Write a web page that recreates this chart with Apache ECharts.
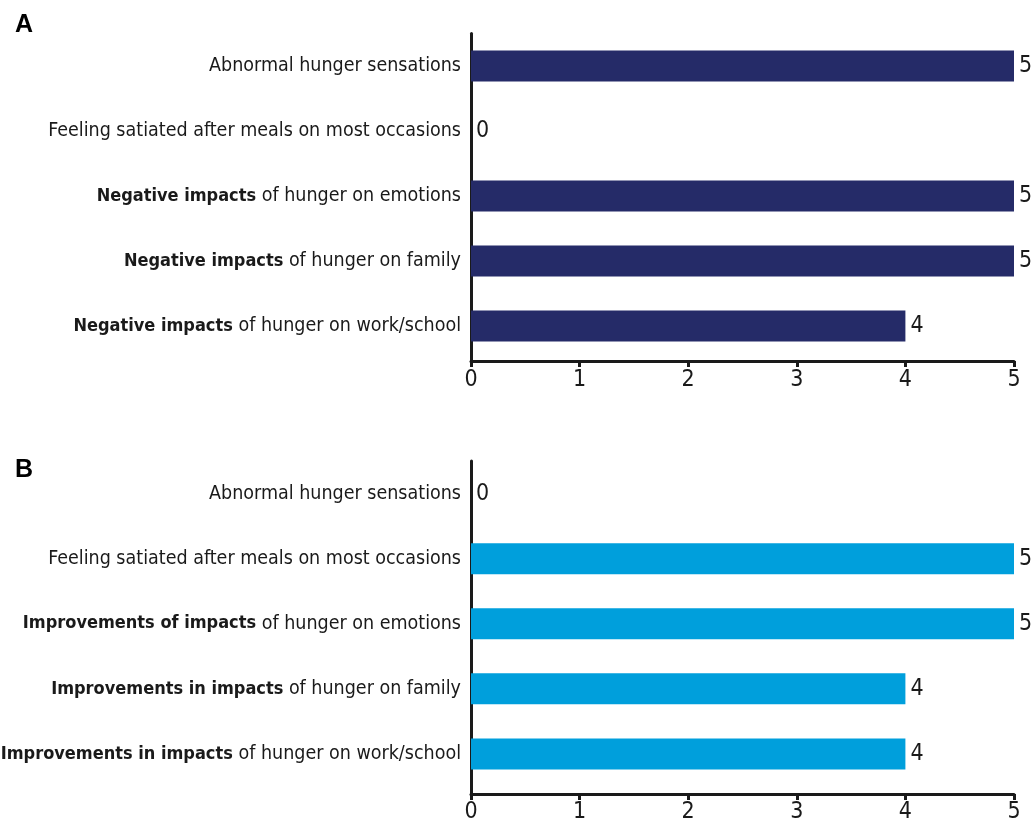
<!DOCTYPE html>
<html>
<head>
<meta charset="utf-8">
<script src="https://cdn.jsdelivr.net/npm/echarts@6/dist/echarts.min.js"></script>
<style>
  html, body { margin: 0; padding: 0; background: #fff; }
  #chart { width: 1033px; height: 820px; }
</style>
</head>
<body>
<div id="chart"></div>
<script>
// panel A
const categoriesA = [
  'Abnormal hunger sensations',
  'Feeling satiated after meals on most occasions',
  'Negative impacts of hunger on emotions',
  'Negative impacts of hunger on family',
  'Negative impacts of hunger on work/school'
];
const valuesA = [5, 0, 5, 5, 4];

// panel B
const categoriesB = [
  'Abnormal hunger sensations',
  'Feeling satiated after meals on most occasions',
  'Improvements of impacts of hunger on emotions',
  'Improvements in impacts of hunger on family',
  'Improvements in impacts of hunger on work/school'
];
const valuesB = [0, 5, 5, 4, 4];

// parts of the labels printed in bold
const boldParts = ['Negative impacts', 'Improvements of impacts', 'Improvements in impacts'];
const xTicks = [0, 1, 2, 3, 4, 5];

const FONT = "'Liberation Sans Narrow', 'Arial Narrow', 'DejaVu Sans Condensed', sans-serif";
const INK = '#1a1a1a';

const fmtCategory = function(name) {
  for (const b of boldParts) {
    if (name.indexOf(b) === 0) {
      return '{b|' + b + '}{n|' + name.slice(b.length) + '}';
    }
  }
  return '{n|' + name + '}';
};

const chart = echarts.init(document.getElementById('chart'));

const frameX = function(gridIndex, margin) {
  return {
    type: 'value', gridIndex: gridIndex, min: 0, max: 5, interval: 1,
    axisLine: { show: true, lineStyle: { color: INK, width: 3 } },
    axisTick: { show: true, length: 6, lineStyle: { color: INK, width: 3 } },
    axisLabel: {
      margin: margin, fontSize: 23, fontFamily: FONT, color: INK,
      formatter: v => xTicks.indexOf(v) >= 0 ? String(v) : ''
    },
    splitLine: { show: false }
  };
};
const frameY = function(gridIndex) {
  return {
    type: 'value', gridIndex: gridIndex, min: 0, max: 1,
    axisLine: { show: true, lineStyle: { color: INK, width: 3 } },
    axisTick: { show: false }, axisLabel: { show: false }, splitLine: { show: false }
  };
};
const barX = function(gridIndex) {
  return { type: 'value', gridIndex: gridIndex, min: 0, max: 5, show: false };
};
const barY = function(gridIndex, cats) {
  return {
    type: 'category', gridIndex: gridIndex, data: cats, inverse: true,
    axisLine: { show: false }, axisTick: { show: false },
    axisLabel: {
      margin: 10, formatter: fmtCategory,
      rich: {
        b: { fontSize: 18, fontFamily: FONT, fontWeight: 'bold', color: INK },
        n: { fontSize: 19.5, fontFamily: FONT, color: INK }
      }
    }
  };
};
const barSeries = function(idx, values, color) {
  return {
    type: 'bar', xAxisIndex: idx, yAxisIndex: idx, data: values, barWidth: 31,
    itemStyle: { color: color },
    label: {
      show: true, position: 'right', distance: 5,
      fontSize: 23, fontFamily: FONT, color: INK
    },
    silent: true
  };
};

const gridBase = { left: 471, right: 19, containLabel: false, outerBoundsMode: 'none' };

const option = {
  animation: false,
  backgroundColor: '#fff',
  title: [
    { text: 'A', left: 10, top: 8, textStyle: { fontSize: 25, fontWeight: 'bold', color: '#000', fontFamily: "'Liberation Sans', Arial, sans-serif" } },
    { text: 'B', left: 10, top: 453, textStyle: { fontSize: 25, fontWeight: 'bold', color: '#000', fontFamily: "'Liberation Sans', Arial, sans-serif" } }
  ],
  grid: [
    Object.assign({ top: 33.5, height: 325 }, gridBase),   // A bars
    Object.assign({ top: 33.5, height: 327.5 }, gridBase), // A frame
    Object.assign({ top: 461, height: 325.5 }, gridBase),  // B bars
    Object.assign({ top: 461, height: 333 }, gridBase)     // B frame
  ],
  xAxis: [barX(0), frameX(1, 8), barX(2), frameX(3, 7)],
  yAxis: [barY(0, categoriesA), frameY(1), barY(2, categoriesB), frameY(3)],
  series: [
    barSeries(0, valuesA, '#252b68'),
    barSeries(2, valuesB, '#009fdc')
  ]
};

chart.setOption(option);
</script>
</body>
</html>
